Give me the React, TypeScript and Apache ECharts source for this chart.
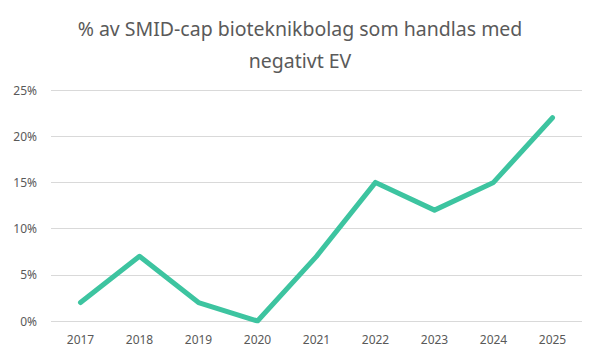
import React, { useEffect, useRef } from "react";
import * as echarts from "echarts";

const years = ["2017", "2018", "2019", "2020", "2021", "2022", "2023", "2024", "2025"];
const shares = [2, 7, 2, 0, 7, 15, 12, 15, 22];
const titleText = "% av SMID-cap bioteknikbolag som handlas med\nnegativt EV";

export default function App() {
  const ref = useRef<HTMLDivElement>(null);
  useEffect(() => {
    const chart = echarts.init(ref.current!, null, { renderer: "svg" });
    chart.setOption({
      animation: false,
      backgroundColor: "#ffffff",
      title: {
        text: titleText,
        left: "center",
        top: 7,
        textStyle: {
          fontFamily: "Noto Sans",
          fontSize: 19.5,
          fontWeight: "normal",
          color: "#5a5a5a",
          lineHeight: 32,
        },
      },
      grid: { left: 51, right: 18, top: 90, bottom: 39 },
      xAxis: {
        type: "category",
        data: years,
        boundaryGap: true,
        axisLine: { show: false },
        axisTick: { show: false },
        axisLabel: { color: "#595959", fontSize: 12, fontFamily: "Noto Sans", margin: 12 },
      },
      yAxis: {
        type: "value",
        min: 0,
        max: 25,
        interval: 5,
        axisLine: { show: false },
        axisTick: { show: false },
        splitLine: { lineStyle: { color: "#d9d9d9", width: 1 } },
        axisLabel: {
          color: "#595959",
          fontSize: 12,
          fontFamily: "Noto Sans",
          margin: 14,
          formatter: "{value}%",
        },
      },
      series: [
        {
          type: "line",
          data: shares,
          showSymbol: false,
          symbol: "none",
          lineStyle: { color: "#3dc4a0", width: 5, cap: "round", join: "round" },
          itemStyle: { color: "#3dc4a0" },
        },
      ],
    });
    return () => chart.dispose();
  }, []);
  return <div ref={ref} style={{ width: 600, height: 360, margin: -8 }} />;
}
